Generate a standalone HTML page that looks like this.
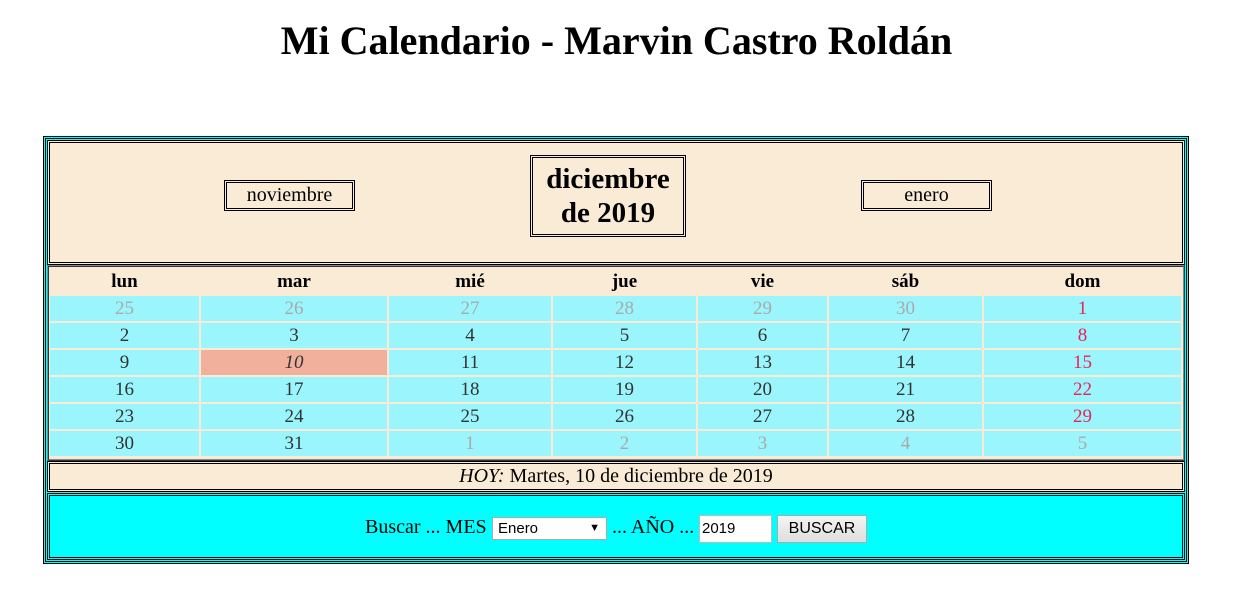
<!DOCTYPE html>
<html><head><meta charset="utf-8"><style>
body{margin:0;width:1253px;height:607px;background:#fff;font-family:"Liberation Serif",serif;position:relative;overflow:hidden}
.a{position:absolute;box-sizing:border-box}
h1{position:absolute;left:0;width:1233px;top:18px;margin:0;text-align:center;font-size:40px;font-weight:bold;line-height:46px}
.dbl{border:3px double #000}
.c{display:flex;align-items:center;justify-content:center;font-size:19px;color:#333}
.cell{background:#9af5fc}
.g{color:#aaa}.r{color:#e8245a}
</style></head><body>
<h1>Mi Calendario - Marvin Castro Roldán</h1>
<div class="a" style="left:43px;top:136px;width:1146px;height:428px;background:#00ffff;border:3px double #000"></div>
<div class="a dbl" style="left:47px;top:140px;width:1138px;height:125px;background:#faebd7"></div>
<div class="a dbl c" style="left:224px;top:180px;width:131px;height:31px;color:#000;font-size:20px">noviembre</div>
<div class="a dbl c" style="left:530px;top:155px;width:156px;height:82px;color:#000;font-weight:bold;font-size:29px;line-height:34px;text-align:center">diciembre<br>de 2019</div>
<div class="a dbl c" style="left:861px;top:180px;width:131px;height:31px;color:#000;font-size:20px">enero</div>
<div class="a" style="left:47px;top:265px;width:1138px;height:196px;background:#faebd7;border:2px ridge #888"></div>
<div id="grid"></div>
<div class="a dbl c" style="left:47px;top:461px;width:1138px;height:31px;background:#faebd7;color:#000;font-size:20px"><i>HOY:</i>&nbsp;Martes, 10 de diciembre de 2019</div>
<div class="a dbl" style="left:47px;top:493px;width:1138px;height:67px;background:#00ffff"></div>
<div class="a" style="left:365px;top:516px;font-size:20px">Buscar ... MES</div>
<div class="a" style="left:492px;top:517px;width:115px;height:23px;background:#fff;border:1px solid #aaa;font-family:'Liberation Sans',sans-serif;font-size:15px;padding:2px 5px">Enero<span style="position:absolute;right:6px;top:4px;font-size:11px">▼</span></div>
<div class="a" style="left:612px;top:516px;font-size:20px">... AÑO ...</div>
<div class="a" style="left:699px;top:515px;width:73px;height:28px;background:#fff;border:1px solid #bbb;font-family:'Liberation Sans',sans-serif;font-size:15px;padding:4px 2px">2019</div>
<div class="a" style="left:777px;top:515px;width:90px;height:28px;background:linear-gradient(#f4f4f4,#dedede);border:1px solid #aaa;font-family:'Liberation Sans',sans-serif;font-size:16px;text-align:center;line-height:26px">BUSCAR</div>
<script>
const dayNames=['lun','mar','mié','jue','vie','sáb','dom'];
const weeks=[[25,26,27,28,29,30,1],[2,3,4,5,6,7,8],[9,10,11,12,13,14,15],[16,17,18,19,20,21,22],[23,24,25,26,27,28,29],[30,31,1,2,3,4,5]];
const cols=[[50,199],[201,387],[389,551],[553,696],[698,827],[829,982],[984,1181]];
const g=document.getElementById('grid');
function mk(x,y,w,h,txt,cls,name){const d=document.createElement('div');d.className='a c '+cls;d.style.cssText=`left:${x}px;top:${y}px;width:${w}px;height:${h}px`;d.innerHTML=txt;


g.appendChild(d);return d;}
dayNames.forEach((n,i)=>{const d=mk(cols[i][0],268,cols[i][1]-cols[i][0],28,n,'','day-header');d.style.fontWeight='bold';d.style.color='#000';});
weeks.forEach((w,r)=>w.forEach((v,i)=>{const y=296+r*27;let cls='cell';
const other=(r==0&&v>20)||(r==5&&v<10);
if(other)cls+=' g';else if(i==6)cls+=' r';
const d=mk(cols[i][0],y,cols[i][1]-cols[i][0],25,v,cls,'day-cell');
if(r==2&&i==1){d.style.background='#f0b09c';d.style.fontStyle='italic';}
}));
</script>
</body></html>
